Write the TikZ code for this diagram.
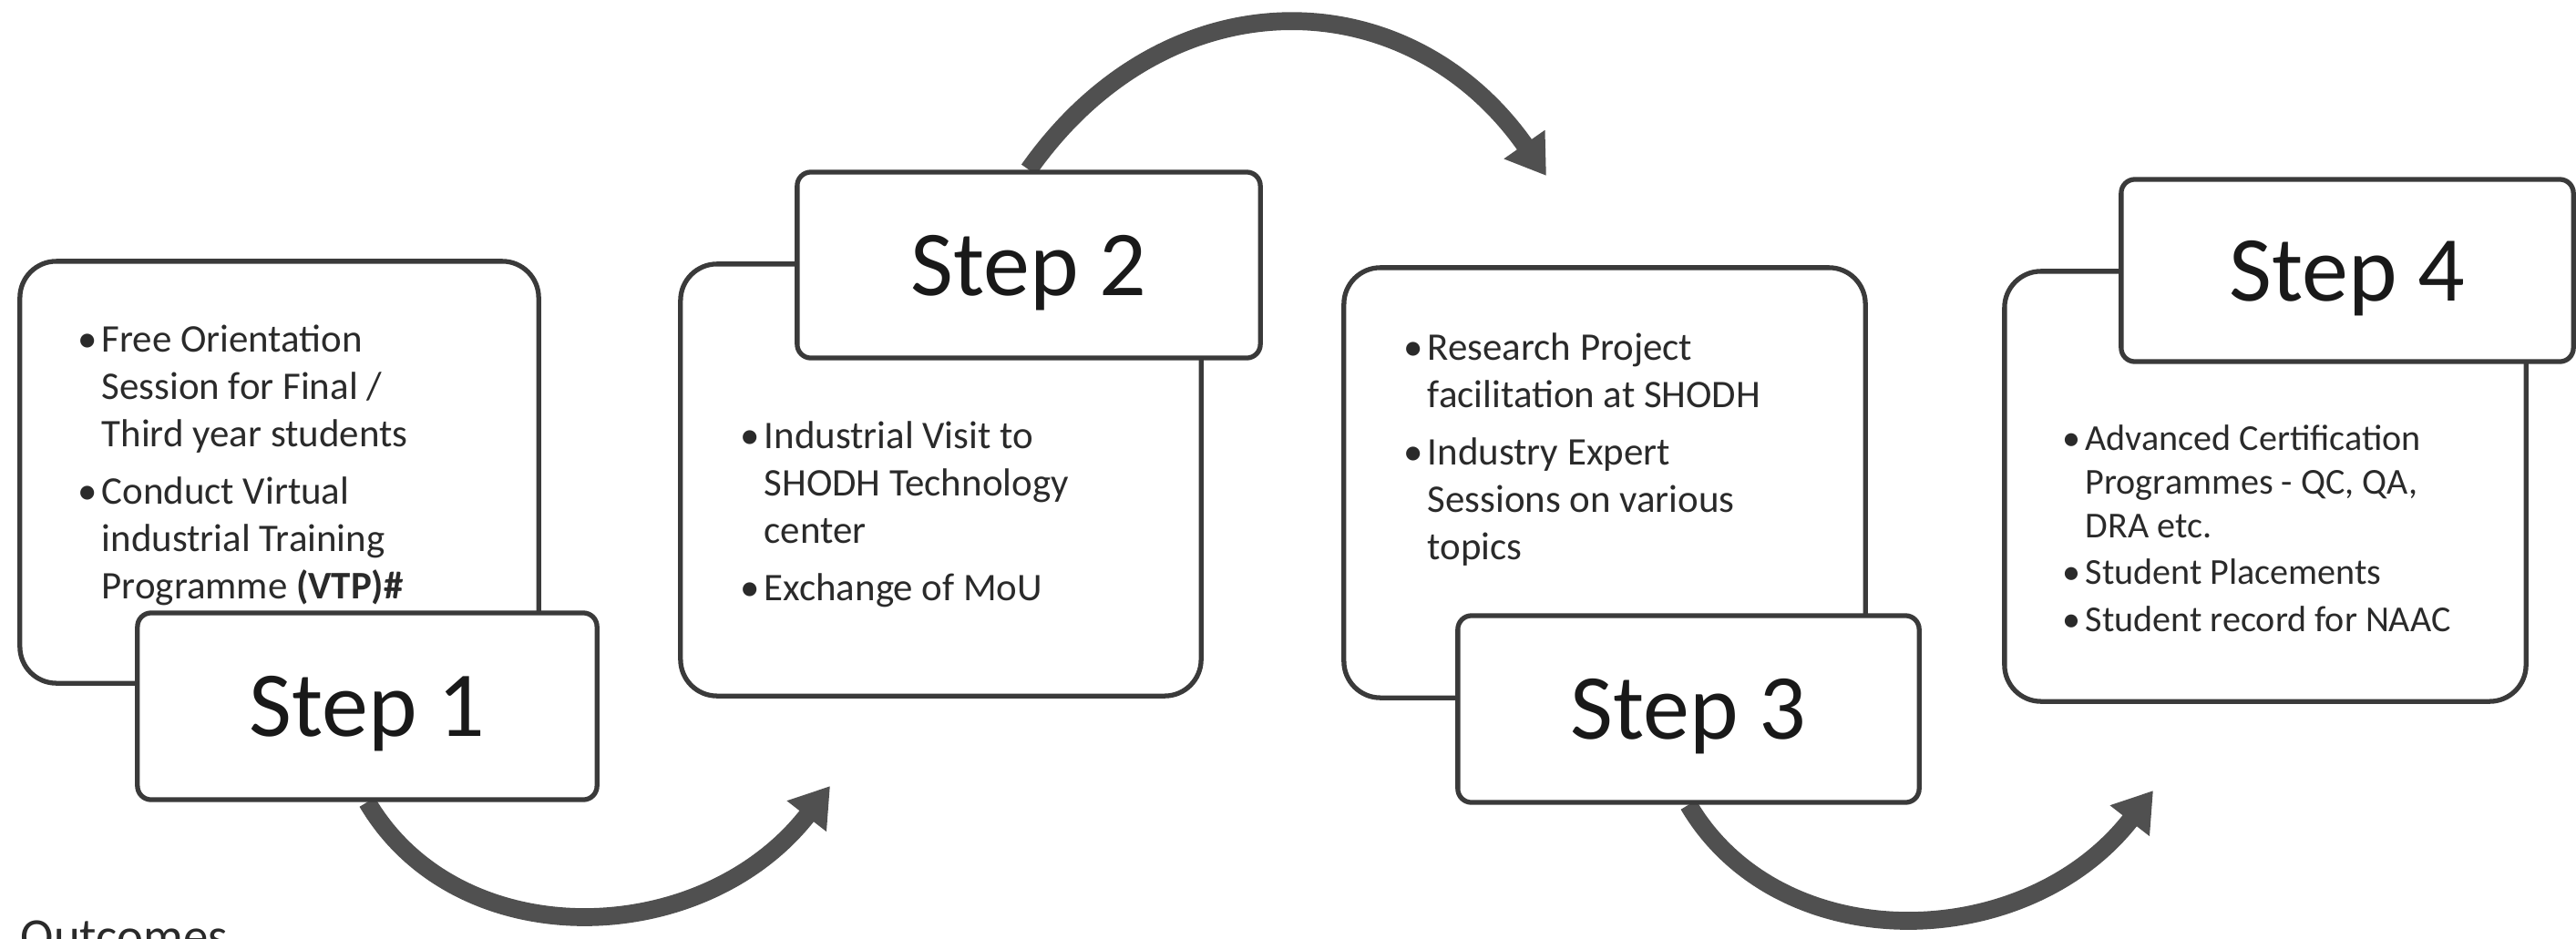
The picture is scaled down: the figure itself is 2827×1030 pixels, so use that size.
\documentclass[tikz,border=0pt]{standalone}
\usepackage{fontspec}
\setmainfont{Carlito}
\usetikzlibrary{arrows.meta}
\pgfdeclarelayer{background}
\pgfsetlayers{background,main}
\definecolor{boxline}{HTML}{3A3A3A}
\definecolor{arrowc}{HTML}{505050}
\definecolor{txt}{HTML}{2A2A2A}
\begin{document}
\begin{tikzpicture}[x=0.01cm,y=-0.01cm,
  bigbox/.style={draw=boxline, line width=1.5pt, rounded corners=0.4cm, fill=white, inner sep=0pt},
  stepbox/.style={draw=boxline, line width=1.5pt, rounded corners=0.15cm, fill=white, inner sep=0pt,
                  text depth=0pt, font=\fontsize{29}{34}\selectfont, text=black!90},
  bullets/.style={inner sep=0pt, anchor=base west, text=txt},
  flow/.style={draw=arrowc, line width=5.6pt, -{Triangle[length=0.42cm,width=0.52cm]}}
]
\useasboundingbox (0,0) rectangle (2827,1030);

% arrow end points
\coordinate (e1) at (911,863);
\coordinate (e2) at (1697,193);
\coordinate (e3) at (2363,868);

% big boxes
\node[bigbox, minimum width=5.69cm, minimum height=4.63cm] (b1) at (306.5,518.5) {};
\node[bigbox, minimum width=5.71cm, minimum height=4.74cm] (b2) at (1032.5,527) {};
\node[bigbox, minimum width=5.72cm, minimum height=4.72cm] (b3) at (1761,530) {};
\node[bigbox, minimum width=5.72cm, minimum height=4.72cm] (b4) at (2486,534) {};

% step boxes
\node[stepbox, minimum width=5.04cm, minimum height=2.05cm] (s1) at (403,775.5) {Step 1};
\node[stepbox, minimum width=5.08cm, minimum height=2.04cm] (s2) at (1129,291) {Step 2};
\node[stepbox, minimum width=5.06cm, minimum height=2.05cm] (s3) at (1853,778.5) {Step 3};
\node[stepbox, minimum width=4.96cm, minimum height=2.00cm] (s4) at (2576,297) {Step 4};

% background and arrows behind the boxes
\begin{pgfonlayer}{background}
\fill[white] (0,0) rectangle (2827,1030);
\draw[flow] (s1.south) .. controls +(100,170) and +(-140,180) .. (e1);
\draw[flow] (s2.north) .. controls +(152,-216) and +(-152,-217) .. (e2);
\draw[flow] (s3.south) .. controls +(100,170) and +(-140,180) .. (e3);
\end{pgfonlayer}

% bullet texts
\node[bullets, font=\fontsize{12.2}{14.8}\selectfont] (t1) at (85,386) {%
\begin{tabular}[t]{@{}p{0.26cm}@{}l@{}}
\textbullet & Free Orientation\\
 & Session for Final /\\
 & Third year students\\[3.1pt]
\textbullet & Conduct Virtual\\
 & industrial Training\\
 & Programme \textbf{(VTP)\#}
\end{tabular}};

\node[bullets, font=\fontsize{12.2}{14.8}\selectfont] (t2) at (812,492) {%
\begin{tabular}[t]{@{}p{0.26cm}@{}l@{}}
\textbullet & Industrial Visit to\\
 & SHODH Technology\\
 & center\\[3.1pt]
\textbullet & Exchange of MoU
\end{tabular}};

\node[bullets, font=\fontsize{12.2}{14.8}\selectfont] (t3) at (1540,395) {%
\begin{tabular}[t]{@{}p{0.26cm}@{}l@{}}
\textbullet & Research Project\\
 & facilitation at SHODH\\[3.1pt]
\textbullet & Industry Expert\\
 & Sessions on various\\
 & topics
\end{tabular}};

\node[bullets, font=\fontsize{11.4}{13.7}\selectfont] (t4) at (2263,494) {%
\begin{tabular}[t]{@{}p{0.25cm}@{}l@{}}
\textbullet & Advanced Certification\\
 & Programmes - QC, QA,\\
 & DRA etc.\\[0.9pt]
\textbullet & Student Placements\\[0.9pt]
\textbullet & Student record for NAAC
\end{tabular}};

\node[inner sep=0pt, anchor=base west, text=txt, font=\fontsize{15.6}{18}\selectfont] (out) at (22,1046) {Outcomes};
\end{tikzpicture}
\end{document}
